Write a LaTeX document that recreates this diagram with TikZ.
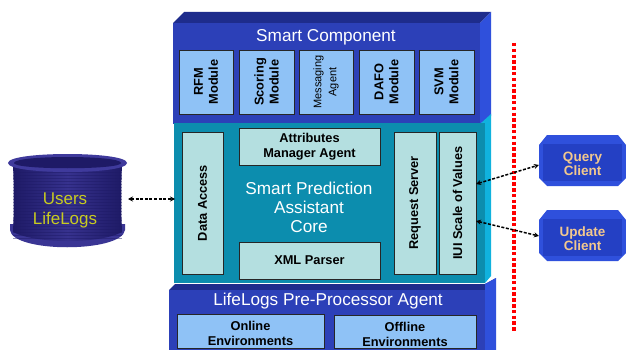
\documentclass[tikz,border=0pt]{standalone}
\usepackage{fontspec}
\setmainfont{Liberation Sans}
\usetikzlibrary{arrows.meta}
\definecolor{scfront}{HTML}{2C40B8}
\definecolor{sctop}{HTML}{1E2C8C}
\definecolor{scside}{HTML}{2F50DC}
\definecolor{modfill}{HTML}{8FC2F6}
\definecolor{corefront}{HTML}{0C8DAE}
\definecolor{coreside}{HTML}{10B2DE}
\definecolor{corebox}{HTML}{B4DFE0}
\definecolor{cyldark}{HTML}{1E1A66}
\definecolor{cylmid}{HTML}{3F3A9C}
\definecolor{peach}{HTML}{F2C88E}
\definecolor{cylyellow}{HTML}{C8CC20}
\definecolor{clientin}{HTML}{2440C4}
\tikzset{
  modbox/.style={draw=black!85,line width=0.7pt,fill=modfill,inner sep=0pt,align=center,font=\bfseries\fontsize{12.8}{15}\selectfont,text=black},
  corecell/.style={draw=black!85,line width=0.7pt,fill=corebox,inner sep=0pt,align=center,font=\bfseries\fontsize{12.8}{15.5}\selectfont,text=black},
  headline/.style={inner sep=0pt,text=white,font=\fontsize{17.2}{19}\selectfont},
  clientlabel/.style={inner sep=0pt,minimum width=87pt,minimum height=51pt,align=center,text=peach,font=\bfseries\fontsize{13.5}{14}\selectfont},
  link/.style={line width=1.5pt,dash pattern=on 3pt off 1.6pt,{Stealth[length=5pt,width=5pt]}-{Stealth[length=5pt,width=5pt]}},
  barrier/.style={draw=red,line width=3.5pt,dash pattern=on 3.5pt off 2.3pt}
}
\begin{document}
\begin{tikzpicture}[x=1pt,y=-1pt]
\useasboundingbox (0,0) rectangle (626,350);
\fill[white] (0,0) rectangle (626,350);
% Smart Component block
\fill[sctop] (173,23) -- (184,12) -- (491,12) -- (480,23) -- cycle;
\fill[scside] (480,23) -- (491,12) -- (491,116) -- (480,124) -- cycle;
\fill[scfront] (173,23) rectangle (480,124);
% Core block
\fill[coreside] (480,124) -- (491,114) -- (491,276) -- (485,283) -- (480,283) -- cycle;
\fill[corefront] (174,123) rectangle (485,283);
% Pre-processor block
\fill[sctop] (175,284) -- (485,284) -- (496,278) -- (485,290) -- (169,290) -- cycle;
\fill[scside] (485,284) -- (496,278) -- (496,350) -- (485,350) -- cycle;
\fill[scfront] (169,290) rectangle (485,350);
% Headings
\node[headline] (smarttitle) at (326,37) {Smart Component};
\node[headline,align=center] (coretitle) at (309,207) {Smart Prediction\\Assistant\\Core};
\node[headline] (pretitle) at (328,301) {LifeLogs Pre-Processor Agent};
% Modules
\node[modbox,rotate=90,minimum width=64pt,minimum height=54pt] (rfm) at (206,82) {RFM\\Module};
\node[modbox,rotate=90,minimum width=64pt,minimum height=55pt] (scoring) at (266.5,82) {Scoring\\Module};
\node[modbox,rotate=90,minimum width=64pt,minimum height=54pt,font=\fontsize{11}{15}\selectfont] (messaging) at (326,82) {Messaging\\Agent};
\node[modbox,rotate=90,minimum width=64pt,minimum height=55pt] (dafo) at (386.5,82) {DAFO\\Module};
\node[modbox,rotate=90,minimum width=64pt,minimum height=55pt] (svm) at (446.5,82) {SVM\\Module};
% Core cells
\node[corecell,rotate=90,minimum width=142pt,minimum height=41pt] (data) at (202.5,203) {Data Access};
\node[corecell,minimum width=141pt,minimum height=37pt] (attr) at (309.5,146.5) {Attributes\\Manager Agent};
\node[corecell,minimum width=141pt,minimum height=37pt] (xml) at (309.5,260.5) {XML Parser};
\node[corecell,rotate=90,minimum width=142pt,minimum height=42pt] (request) at (415,203) {Request Server};
\node[corecell,rotate=90,minimum width=142pt,minimum height=37pt] (iui) at (457.5,203) {IUI Scale of Values};
% Environments
\node[modbox,minimum width=147pt,minimum height=34pt] (online) at (250.5,331) {\rule{0pt}{15pt}Online\\Environments};
\node[modbox,minimum width=142pt,minimum height=33pt] (offline) at (405,331.5) {\rule{0pt}{15pt}Offline\\Environments};
% Users LifeLogs store
\fill[cylmid!85!cyldark] (10,230) .. controls (12,253) and (122,253) .. (125,230) -- (125,224) -- (10,224) -- cycle;
\shade[left color=cyldark,right color=cyldark,middle color=cylmid!75!cyldark] (13,164) -- (122,164) .. controls (121,190) and (121,210) .. (122,232) .. controls (100,244) and (36,244) .. (13,232) .. controls (14,210) and (14,190) .. (13,164) -- cycle;
\begin{scope}
\clip (13,164) rectangle (122,238);
\foreach \yy in {172,175,...,238} \draw[cyldark,line width=0.6pt,opacity=0.45] (13,\yy) -- (122,\yy);
\end{scope}
\fill[cylmid] (8,163) .. controls (8,151) and (127,151) .. (127,163) .. controls (127,175) and (8,175) .. (8,163) -- cycle;
\fill[cyldark] (14,163) .. controls (14,155) and (121,155) .. (121,163) .. controls (121,170) and (14,170) .. (14,163) -- cycle;
\node[inner sep=0pt,align=center,text=cylyellow,font=\fontsize{17}{20}\selectfont,minimum width=119pt,minimum height=92pt] (users) at (65,210.5) {Users\\LifeLogs};
% Clients
\fill[scside] (539,145) -- (547,135) -- (618,135) -- (626,145) -- (626,178) -- (618,186) -- (547,186) -- (539,178) -- cycle;
\fill[clientin] (543,144) rectangle (622,181);
\fill[scside] (539,220) -- (547,210) -- (618,210) -- (626,220) -- (626,253) -- (618,261) -- (547,261) -- (539,253) -- cycle;
\fill[clientin] (543,219) rectangle (622,256);
\node[clientlabel] (query) at (582.5,163.5) {Query\\Client};
\node[clientlabel] (update) at (582.5,238.5) {Update\\Client};
% Boundary
\coordinate (bartop) at (514,43);
\coordinate (barbottom) at (514,332);
\draw[barrier] (bartop) -- (barbottom);
% Connectors
\coordinate (userport) at (128,199);
\coordinate (coreport) at (175,199);
\draw[link] (userport) -- (coreport);
\coordinate (iuiq) at (476,184);
\coordinate (iuiu) at (476,221);
\coordinate (qport) at (539,165);
\coordinate (uport) at (539,236);
\draw[link] (iuiq) -- (qport);
\draw[link] (iuiu) -- (uport);
\end{tikzpicture}
\end{document}
